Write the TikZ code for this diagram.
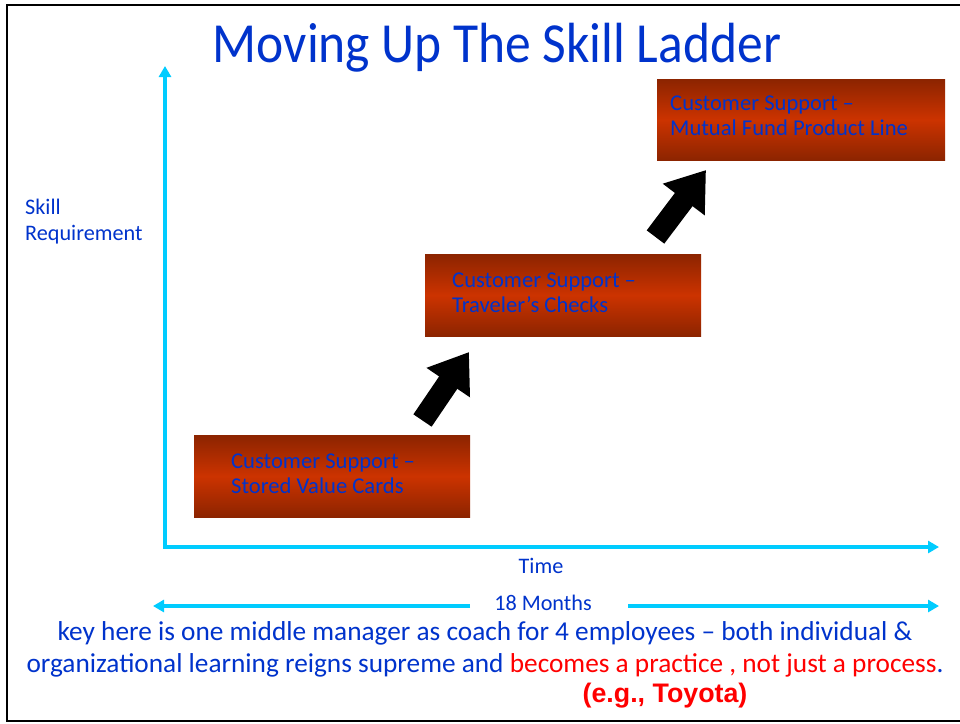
\documentclass[tikz,border=0pt]{standalone}
\usepackage{fontspec}
\setmainfont{Carlito}
\newfontfamily\arialfont{Liberation Sans}
\usetikzlibrary{arrows.meta}
\definecolor{txtblue}{RGB}{0,51,204}
\definecolor{axcyan}{RGB}{0,204,255}
\definecolor{boxdark}{RGB}{140,36,0}
\definecolor{boxbright}{RGB}{204,51,0}
\definecolor{redtxt}{RGB}{255,0,0}
\tikzset{
  ladderbox/.style={shade, top color=boxdark, bottom color=boxdark, middle color=boxbright,
    inner sep=0pt, anchor=north west},
  boxtext/.style={text=txtblue, font=\fontsize{22.6}{25}\selectfont, align=left, anchor=west, inner sep=0pt},
  labeltext/.style={text=txtblue, font=\fontsize{22.2}{26}\selectfont, inner sep=0pt},
  bodytext/.style={text=txtblue, font=\fontsize{27.3}{32}\selectfont, inner sep=0pt},
  axisline/.style={draw=axcyan, line width=4pt, line join=miter},
  axistip/.style={-{Triangle[width=12pt,length=11pt]}},
  bigarrow/.style={draw=black, line width=22pt, -{Triangle[width=50pt,length=37pt]}},
}
\begin{document}
\begin{tikzpicture}[x=1pt,y=-1pt]
\useasboundingbox (0,0) rectangle (960,723);
\fill[white] (0,0) rectangle (960,723);
% frame
\draw[line width=2.5pt] (975,5) -- (7,5) -- (7,721) -- (975,721);
% title
\node[text=txtblue, font=\fontsize{51.5}{60}\selectfont, inner sep=0pt, yscale=1.1, transform shape] (title) at (497,48) {Moving Up The Skill Ladder};
% axes
\coordinate (origin) at (165,547);
\coordinate (ytop) at (165,66);
\coordinate (xend) at (939,547);
\draw[axisline, {Triangle[width=12pt,length=11pt]}-{Triangle[width=12pt,length=11pt]}] (ytop) -- (origin) -- (xend);
\node[labeltext, align=left, anchor=west] (skill) at (25,222) {Skill\\Requirement};
\node[labeltext] (time) at (541,566) {Time};
\node[labeltext] (months) at (543,603) {18 Months};
\coordinate (mleft) at (153,606);
\coordinate (mgapl) at (470,606);
\coordinate (mgapr) at (628,606);
\coordinate (mright) at (939,606);
\draw[axisline, axistip] (mgapl) -- (mleft);
\draw[axisline, axistip] (mgapr) -- (mright);
% boxes
\node[ladderbox, minimum width=276pt, minimum height=82pt] (b1) at (194,435) {};
\node[ladderbox, minimum width=276pt, minimum height=82pt] (b2) at (425,254) {};
\node[ladderbox, minimum width=288pt, minimum height=81pt] (b3) at (657,79) {};
\node[boxtext] (t1) at ([xshift=37pt,yshift=2.5pt]b1.west) {Customer Support –\\Stored Value Cards};
\node[boxtext] (t2) at ([xshift=27pt,yshift=2.5pt]b2.west) {Customer Support –\\Traveler’s Checks};
\node[boxtext] (t3) at ([xshift=13pt,yshift=3.5pt]b3.west) {Customer Support –\\Mutual Fund Product Line};
% black arrows
\coordinate (a1s) at (422.5,420.5);
\coordinate (a1e) at (469,352);
\coordinate (a2s) at (655.5,237);
\coordinate (a2e) at (706,170);
\draw[bigarrow] (a1s) -- (a1e);
\draw[bigarrow] (a2s) -- (a2e);
% bottom text
\node[bodytext] (l1) at (485,633) {key here is one middle manager as coach for 4 employees – both individual \&};
\node[bodytext] (l2) at (485,665) {organizational learning reigns supreme and \textcolor{redtxt}{becomes a practice , not just a process}.};
\node[text=redtxt, font=\arialfont\bfseries\fontsize{26.8}{30}\selectfont, inner sep=0pt] (toyota) at (665,696) {(e.g., Toyota)};
\end{tikzpicture}
\end{document}
